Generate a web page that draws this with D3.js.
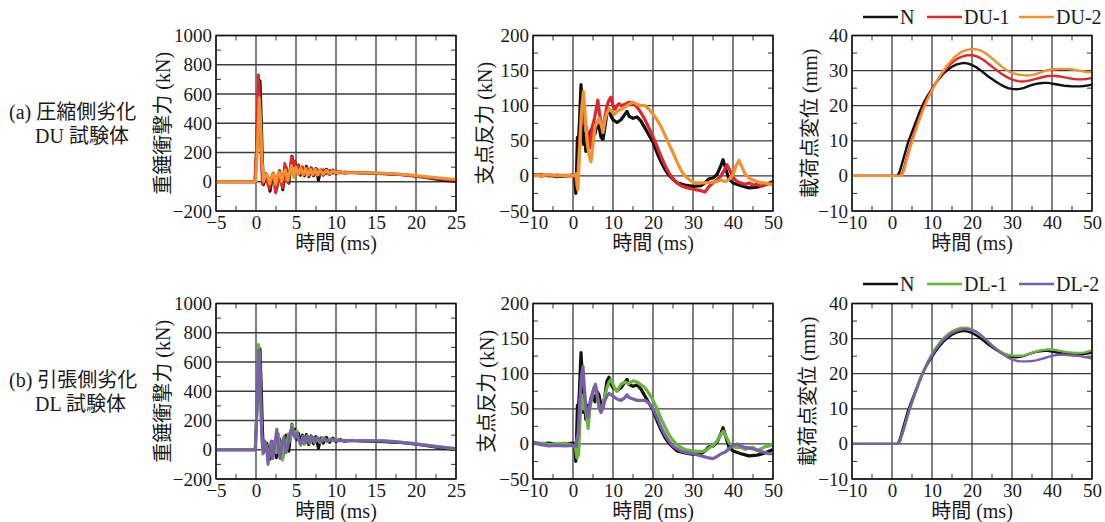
<!DOCTYPE html>
<html>
<head>
<meta charset="utf-8">
<script src="https://cdn.jsdelivr.net/npm/d3@7"></script>
<style>
  body { margin: 0; background: #fff; }
  text { font-family: "Liberation Serif", "Noto Sans CJK JP", serif; fill: #1a1a1a; }
</style>
</head>
<body>
<div id="container"></div>
<script>
/* DATA */
const impactTicksX = [-5, 0, 5, 10, 15, 20, 25];
const impactTicksY = [-200, 0, 200, 400, 600, 800, 1000];
const timeTicks = [-10, 0, 10, 20, 30, 40, 50];
const reactionTicksY = [-50, 0, 50, 100, 150, 200];
const dispTicksY = [-10, 0, 10, 20, 30, 40];

// impact force (kN) vs time (ms)
const impactN = [[-5,0],[-0.1,0],[0.1,250],[0.35,600],[0.5,690],[0.65,450],[0.8,150],[0.95,-20],[1.15,30],[1.35,45],[1.55,-10],[1.75,-65],[1.95,0],[2.15,55],[2.35,20],[2.55,-55],[2.75,0],[2.95,75],[3.15,10],[3.35,-55],[3.55,40],[3.75,100],[3.95,20],[4.1,-10],[4.3,90],[4.5,175],[4.65,110],[4.85,140],[5.05,70],[5.3,115],[5.55,45],[5.8,100],[6.05,40],[6.3,105],[6.6,35],[6.9,95],[7.2,40],[7.5,90],[7.8,10],[8.1,80],[8.4,45],[8.8,85],[9.2,50],[9.6,80],[10,55],[10.5,72],[11,58],[12,65],[13,60],[14,58],[15,57],[16,55],[17,52],[18,50],[19,45],[20,38],[21,30],[22,22],[23,14],[24,6],[25,2]];
const impactDU1 = [[-5,0],[-0.15,0],[0.05,200],[0.3,730],[0.45,560],[0.6,250],[0.8,-15],[1.0,35],[1.25,55],[1.5,-20],[1.7,-45],[1.95,30],[2.15,60],[2.45,-75],[2.7,-10],[2.9,70],[3.15,-5],[3.35,-40],[3.6,125],[3.8,55],[4.0,-5],[4.2,50],[4.45,170],[4.6,115],[4.8,140],[5.0,80],[5.25,110],[5.5,55],[5.8,100],[6.1,50],[6.4,95],[6.7,45],[7.0,90],[7.3,50],[7.65,85],[8.0,50],[8.4,82],[8.8,55],[9.2,78],[9.6,58],[10,72],[10.5,60],[11,66],[12,62],[13,63],[14,60],[15,58],[16,56],[17,53],[18,50],[19,45],[20,40],[21,33],[22,27],[23,20],[24,14],[25,10]];
const impactDU2 = [[-5,0],[-0.05,0],[0.15,200],[0.4,575],[0.55,450],[0.75,150],[0.95,0],[1.2,50],[1.45,40],[1.7,-15],[1.95,40],[2.2,55],[2.45,-20],[2.7,50],[2.95,65],[3.2,0],[3.45,60],[3.7,80],[3.95,10],[4.2,60],[4.45,110],[4.7,30],[5.0,100],[5.3,50],[5.6,95],[5.9,45],[6.2,90],[6.5,45],[6.8,85],[7.1,50],[7.4,85],[7.7,45],[8.0,80],[8.4,50],[8.8,78],[9.2,55],[9.6,75],[10,60],[10.5,70],[11,60],[12,62],[13,62],[14,60],[15,60],[16,58],[17,55],[18,52],[19,48],[20,42],[21,36],[22,31],[23,26],[24,21],[25,17]];
const impactDL1 = [[-5,0],[-0.1,0],[0.1,250],[0.3,720],[0.45,640],[0.65,200],[0.85,-30],[1.05,50],[1.3,30],[1.55,-60],[1.8,20],[2.05,-40],[2.3,60],[2.55,-20],[2.8,110],[3.05,-30],[3.3,-70],[3.55,50],[3.8,0],[4.05,110],[4.3,60],[4.5,170],[4.7,120],[4.9,100],[5.1,130],[5.35,60],[5.6,30],[5.85,90],[6.1,40],[6.4,95],[6.7,45],[7.0,90],[7.3,50],[7.6,80],[8.0,50],[8.4,85],[8.8,55],[9.2,75],[9.6,60],[10,70],[11,62],[12,64],[13,63],[14,62],[15,62],[16,60],[17,58],[18,53],[19,47],[20,42],[21,35],[22,28],[23,20],[24,12],[25,5]];
const impactDL2 = [[-5,0],[-0.05,0],[0.1,300],[0.3,680],[0.5,560],[0.7,100],[0.9,-20],[1.1,60],[1.3,20],[1.5,-100],[1.7,-20],[1.9,60],[2.1,-60],[2.35,40],[2.6,140],[2.8,20],[3.0,-60],[3.25,40],[3.5,90],[3.75,-20],[4.0,30],[4.25,110],[4.5,150],[4.7,100],[4.9,80],[5.1,110],[5.35,70],[5.6,40],[5.9,85],[6.2,50],[6.5,90],[6.8,50],[7.1,85],[7.4,55],[7.8,80],[8.2,55],[8.6,75],[9.0,58],[9.5,72],[10,62],[11,63],[12,60],[13,62],[14,62],[15,62],[16,61],[17,57],[18,52],[19,46],[20,40],[21,33],[22,26],[23,19],[24,13],[25,8]];

// support reaction (kN) vs time (ms)
const reactionN = [[-10,2],[-8,0],[-6,1],[-4,-1],[-2,0],[0,1],[0.4,0],[0.7,-25],[0.9,10],[1.1,55],[1.3,45],[1.6,75],[2.0,130],[2.3,100],[2.6,45],[2.9,60],[3.2,35],[3.6,55],[4.0,50],[4.5,65],[5.0,70],[5.5,60],[6.0,75],[6.5,70],[7.0,55],[7.5,52],[8.0,70],[8.5,90],[9.0,95],[9.5,85],[10,80],[11,76],[12,80],[13,88],[13.5,92],[14,85],[15,82],[16,84],[17,78],[18,68],[19,58],[20,48],[21,33],[22,20],[23,9],[24,1],[25,-5],[26,-10],[28,-13],[30,-15],[32,-14],[33,-10],[34,-4],[35,-3],[36,2],[37,15],[37.5,23],[38.2,10],[39,-5],[40,-10],[42,-14],[44,-17],[46,-16],[48,-13],[50,-8]];
const reactionDU1 = [[-10,0],[-8,2],[-6,0],[-4,1],[-2,0],[0,0],[0.6,2],[1.0,-15],[1.4,20],[1.8,60],[2.3,100],[2.8,75],[3.3,70],[3.8,55],[4.3,40],[4.8,70],[5.3,80],[5.8,95],[6.2,108],[6.6,90],[7.0,75],[7.5,65],[8.0,85],[8.5,100],[9.0,108],[9.5,112],[10,100],[10.5,95],[11,100],[11.5,103],[12,100],[13,102],[14,105],[15,103],[16,98],[17,90],[18,80],[19,68],[20,56],[21,42],[22,28],[23,15],[24,4],[25,-4],[26,-10],[27,-14],[28,-16],[30,-19],[32,-21],[33,-23],[34,-15],[35,-10],[36,-6],[37,0],[38,10],[38.5,16],[39.2,8],[40,-2],[41,-8],[42,-10],[43,-12],[44,-10],[45,-13],[46,-12],[47,-15],[48,-12],[50,-10]];
const reactionDU2 = [[-10,1],[-8,0],[-6,2],[-4,0],[-2,1],[0,0],[0.8,3],[1.2,-20],[1.6,30],[2.1,90],[2.6,120],[3.0,90],[3.5,50],[4.0,30],[4.5,20],[5.0,45],[5.5,70],[6.0,75],[6.5,82],[7.0,75],[7.5,62],[8.0,80],[8.5,90],[9.0,95],[9.5,93],[10,90],[10.5,88],[11,92],[12,95],[13,98],[14,102],[15,105],[16,102],[17,100],[18,100],[19,95],[20,88],[21,80],[22,70],[23,58],[24,45],[25,33],[26,20],[27,8],[28,0],[29,-5],[30,-9],[31,-10],[33,-10],[35,-9],[36,-8],[37,-6],[38,-8],[39,-5],[40,2],[40.8,15],[41.5,22],[42.3,12],[43,3],[44,-3],[45,-6],[46,-8],[47,-10],[48,-10],[49,-12],[50,-12]];
const reactionDL1 = [[-10,0],[-8,1],[-6,-1],[-4,0],[-2,1],[0,-2],[0.6,-5],[1.0,-20],[1.4,-15],[1.8,40],[2.2,70],[2.6,50],[3.0,55],[3.4,40],[3.8,22],[4.2,50],[4.7,65],[5.2,80],[5.6,82],[6.0,70],[6.5,50],[7.0,45],[7.5,55],[8.0,70],[8.5,80],[9.0,88],[9.5,92],[10,85],[10.5,78],[11,75],[11.5,80],[12,85],[13,88],[14,86],[15,90],[16,88],[17,84],[18,80],[19,72],[20,62],[21,50],[22,36],[23,24],[24,13],[25,5],[26,-1],[27,-5],[28,-8],[30,-10],[32,-11],[33,-10],[34,-6],[35,-2],[36,4],[37,14],[37.6,18],[38.3,10],[39,2],[40,-4],[41,-5],[42,-5],[43,-8],[44,-6],[45,-5],[46,-9],[47,-7],[48,-4],[49,-3],[50,0]];
const reactionDL2 = [[-10,2],[-8,-1],[-6,-3],[-4,-2],[-2,-3],[0,-2],[0.5,-4],[0.9,5],[1.3,15],[1.7,60],[2.1,95],[2.5,110],[2.9,75],[3.3,50],[3.7,38],[4.2,55],[4.7,70],[5.2,78],[5.6,85],[6.0,72],[6.5,55],[7.0,45],[7.5,52],[8.0,62],[8.5,68],[9.0,72],[9.5,70],[10,68],[11,64],[12,62],[13,66],[13.5,70],[14,66],[15,64],[16,62],[17,62],[18,62],[19,58],[20,50],[21,38],[22,24],[23,13],[24,4],[25,-3],[26,-7],[27,-10],[28,-12],[30,-14],[32,-17],[34,-20],[35,-21],[36,-18],[37,-14],[38,-12],[39,-7],[40,-2],[41,0],[42,-3],[43,-5],[44,-6],[45,-7],[46,-9],[47,-11],[48,-12],[49,-14],[50,-14]];

// loading point displacement (mm) vs time (ms)
const dispN = [[-10,0],[0,0],[1.4,0],[2,1.5],[3,5.5],[4,9.5],[5,12.5],[6,15.5],[7,18.5],[8,21],[9,23],[10,24.8],[11,26.5],[12,28],[13,29.3],[14,30.3],[15,31.1],[16,31.7],[17,32],[18,32.2],[19,32],[20,31.6],[21,31],[22,30.2],[23,29.3],[24,28.4],[25,27.6],[26,26.8],[27,26.1],[28,25.5],[29,25],[30,24.8],[31,24.7],[32,24.8],[33,25.1],[34,25.5],[35,25.9],[36,26.2],[37,26.4],[38,26.5],[39,26.5],[40,26.3],[41,26.1],[42,25.9],[43,25.7],[44,25.6],[45,25.5],[46,25.5],[47,25.5],[48,25.6],[49,25.8],[50,26]];
const dispDU1 = [[-10,0],[0,0],[2.2,0],[2.8,1.5],[3.5,4.5],[4.5,8.5],[5.5,12],[6.5,15.5],[7.5,18.5],[8.5,21.3],[9.5,23.6],[10.5,25.7],[11.5,27.5],[12.5,29.1],[13.5,30.5],[14.5,31.7],[15.5,32.7],[16.5,33.5],[17.5,34],[18.5,34.3],[19.5,34.4],[20.5,34.3],[21.5,33.9],[22.5,33.3],[23.5,32.5],[24.5,31.6],[25.5,30.7],[26.5,29.8],[27.5,29],[28.5,28.3],[29.5,27.7],[30.5,27.3],[31.5,27],[32.5,26.9],[33.5,27],[34.5,27.2],[35.5,27.5],[36.5,27.8],[37.5,28.1],[38.5,28.4],[39.5,28.5],[40.5,28.5],[41.5,28.4],[42.5,28.2],[43.5,28],[44.5,27.8],[45.5,27.6],[46.5,27.5],[47.5,27.5],[48.5,27.6],[49.5,27.8],[50,27.9]];
const dispDU2 = [[-10,0],[0,0],[2.4,0],[3,1.5],[3.7,4.5],[4.7,8.5],[5.7,12],[6.7,15.5],[7.7,18.5],[8.7,21.3],[9.7,23.7],[10.7,25.9],[11.7,27.9],[12.7,29.7],[13.7,31.3],[14.7,32.7],[15.7,33.9],[16.7,34.8],[17.7,35.5],[18.7,35.9],[19.7,36.1],[20.7,36.1],[21.7,35.9],[22.7,35.4],[23.7,34.7],[24.7,33.8],[25.7,32.8],[26.7,31.8],[27.7,30.9],[28.7,30.1],[29.7,29.5],[30.7,29.1],[31.7,28.8],[32.7,28.7],[33.7,28.6],[34.7,28.7],[35.7,28.9],[36.7,29.3],[37.7,29.7],[38.7,30.1],[39.7,30.3],[40.7,30.4],[41.7,30.5],[42.7,30.5],[43.7,30.5],[44.7,30.4],[45.7,30.2],[46.7,30],[47.7,29.8],[48.7,29.6],[50,29.5]];
const dispDL1 = [[-10,0],[0,0],[1.5,0],[2,1],[3,4.5],[4,8.5],[5,12],[6,15.3],[7,18.4],[8,21.2],[9,23.6],[10,25.7],[11,27.5],[12,29],[13,30.3],[14,31.3],[15,32.1],[16,32.6],[17,33],[18,33.1],[19,33],[20,32.6],[21,32],[22,31.2],[23,30.2],[24,29.1],[25,28.1],[26,27.2],[27,26.4],[28,25.8],[29,25.4],[30,25.2],[31,25.1],[32,25.1],[33,25.2],[34,25.5],[35,25.9],[36,26.3],[37,26.6],[38,26.8],[39,26.9],[40,26.9],[41,26.7],[42,26.5],[43,26.3],[44,26.1],[45,26],[46,25.9],[47,25.9],[48,26],[49,26.3],[50,26.6]];
const dispDL2 = [[-10,0],[0,0],[1.6,0],[2.1,1],[3,4.3],[4,8.3],[5,11.8],[6,15],[7,18],[8,20.8],[9,23.2],[10,25.2],[11,27],[12,28.5],[13,29.8],[14,30.8],[15,31.6],[16,32.1],[17,32.5],[18,32.7],[19,32.7],[20,32.5],[21,32],[22,31.2],[23,30.2],[24,29.1],[25,28],[26,27],[27,26.1],[28,25.3],[29,24.6],[30,24.1],[31,23.7],[32,23.5],[33,23.5],[34,23.5],[35,23.6],[36,23.8],[37,24.1],[38,24.4],[39,24.8],[40,25.1],[41,25.3],[42,25.4],[43,25.4],[44,25.3],[45,25.2],[46,25.1],[47,25],[48,24.8],[49,24.6],[50,24.3]];

const legendTop = ["N", "DU-1", "DU-2"];
const legendBottom = ["N", "DL-1", "DL-2"];
const rowLabels = [["(a) 圧縮側劣化", "DU 試験体"], ["(b) 引張側劣化", "DL 試験体"]];

/* LAYOUT */
const W = 1105, H = 522;
const colX = [216, 533, 852];
const rowY = [35.5, 303.5];
const pw = 240, ph = 175.5;

const C = { N: "#111", DU1: "#e3262b", DU2: "#f0922f", DL1: "#68b43c", DL2: "#7a60a8" };

const svg = d3.select('#container')
  .append('svg')
  .attr("width", W)
  .attr("height", H);

const panels = [
  { row: 0, col: 0, xd: [-5, 25], xt: impactTicksX, yd: [-200, 1000], yt: impactTicksY, ylab: "重錘衝撃力 (kN)", ylx: 163, lw: 3,
    series: [[impactN, C.N], [impactDU1, C.DU1], [impactDU2, C.DU2]] },
  { row: 0, col: 1, xd: [-10, 50], xt: timeTicks, yd: [-50, 200], yt: reactionTicksY, ylab: "支点反力 (kN)", ylx: 485, lw: 3.2,
    series: [[reactionN, C.N], [reactionDU1, C.DU1], [reactionDU2, C.DU2]] },
  { row: 0, col: 2, xd: [-10, 50], xt: timeTicks, yd: [-10, 40], yt: dispTicksY, ylab: "載荷点変位 (mm)", ylx: 810, lw: 2.4,
    series: [[dispN, C.N], [dispDU1, C.DU1], [dispDU2, C.DU2]] },
  { row: 1, col: 0, xd: [-5, 25], xt: impactTicksX, yd: [-200, 1000], yt: impactTicksY, ylab: "重錘衝撃力 (kN)", ylx: 163, lw: 3,
    series: [[impactN, C.N], [impactDL1, C.DL1], [impactDL2, C.DL2]] },
  { row: 1, col: 1, xd: [-10, 50], xt: timeTicks, yd: [-50, 200], yt: reactionTicksY, ylab: "支点反力 (kN)", ylx: 487, lw: 3.2,
    series: [[reactionN, C.N], [reactionDL1, C.DL1], [reactionDL2, C.DL2]] },
  { row: 1, col: 2, xd: [-10, 50], xt: timeTicks, yd: [-10, 40], yt: dispTicksY, ylab: "載荷点変位 (mm)", ylx: 808, lw: 2.4,
    series: [[dispN, C.N], [dispDL1, C.DL1], [dispDL2, C.DL2]] }
];

panels.forEach((p, i) => {
  const x0 = colX[p.col], y0 = rowY[p.row];
  const g = svg.append("g").attr("transform", `translate(${x0},${y0})`);
  const x = d3.scaleLinear().domain(p.xd).range([0, pw]);
  const y = d3.scaleLinear().domain(p.yd).range([ph, 0]);

  // minor ticks halfway between majors
  const xStep = p.xt[1] - p.xt[0], yStep = p.yt[1] - p.yt[0];
  const xMinor = p.xt.slice(0, -1).map(v => v + xStep / 2);
  const yMinor = p.yt.slice(0, -1).map(v => v + yStep / 2);

  // grid
  g.selectAll(".gx").data(p.xt).enter().append("line")
    .attr("x1", d => x(d)).attr("x2", d => x(d)).attr("y1", 0).attr("y2", ph)
    .attr("stroke", "#3c3c3c").attr("stroke-width", 1.3);
  g.selectAll(".gy").data(p.yt).enter().append("line")
    .attr("x1", 0).attr("x2", pw).attr("y1", d => y(d)).attr("y2", d => y(d))
    .attr("stroke", "#3c3c3c").attr("stroke-width", 1.3);

  // inner minor ticks
  const tk = 5;
  xMinor.forEach(v => {
    g.append("line").attr("x1", x(v)).attr("x2", x(v)).attr("y1", ph).attr("y2", ph - tk).attr("stroke", "#333").attr("stroke-width", 1);
    g.append("line").attr("x1", x(v)).attr("x2", x(v)).attr("y1", 0).attr("y2", tk).attr("stroke", "#333").attr("stroke-width", 1);
  });
  yMinor.forEach(v => {
    g.append("line").attr("x1", 0).attr("x2", tk).attr("y1", y(v)).attr("y2", y(v)).attr("stroke", "#333").attr("stroke-width", 1);
    g.append("line").attr("x1", pw).attr("x2", pw - tk).attr("y1", y(v)).attr("y2", y(v)).attr("stroke", "#333").attr("stroke-width", 1);
  });

  // clip
  svg.append("clipPath").attr("id", "clip" + i)
    .append("rect").attr("x", 0).attr("y", 0).attr("width", pw).attr("height", ph);

  const line = d3.line().x(d => x(d[0])).y(d => y(d[1]));
  const lines = g.append("g").attr("clip-path", `url(#clip${i})`);
  p.series.forEach(([data, color]) => {
    lines.append("path")
      .datum(data)
      .attr("d", line)
      .attr("fill", "none")
      .attr("stroke", color)
      .attr("stroke-width", p.lw)
      .attr("stroke-linejoin", "round");
  });

  // frame
  g.append("rect").attr("width", pw).attr("height", ph)
    .attr("fill", "none").attr("stroke", "#111").attr("stroke-width", 1.4);

  // tick labels via axes
  const ax = g.append("g").attr("transform", `translate(0,${ph})`)
    .call(d3.axisBottom(x).tickValues(p.xt).tickFormat(d3.format("d")).tickSize(0).tickPadding(5));
  const ay = g.append("g")
    .call(d3.axisLeft(y).tickValues(p.yt).tickFormat(d3.format("d")).tickSize(0).tickPadding(4));
  [ax, ay].forEach(a => {
    a.attr("font-size", 19);
    a.select(".domain").remove();
  });

  // axis titles
  g.append("text")
    .attr("x", pw / 2)
    .attr("y", ph + 39)
    .attr("text-anchor", "middle")
    .attr("font-size", 20)
    .text("時間 (ms)");

  svg.append("text")
    .attr("transform", `translate(${p.ylx},${y0 + ph / 2}) rotate(-90)`)
    .attr("text-anchor", "middle")
    .attr("dominant-baseline", "central")
    .attr("font-size", 20)
    .text(p.ylab);
});

// Legends
function legend(names, colors, ly) {
  const lx = [863, 927, 1019];
  names.forEach((n, k) => {
    svg.append("line")
      .attr("x1", lx[k]).attr("x2", lx[k] + 35)
      .attr("y1", ly).attr("y2", ly)
      .attr("stroke", colors[k]).attr("stroke-width", 2.6);
    svg.append("text")
      .attr("x", lx[k] + 37)
      .attr("y", ly + 7)
      .attr("font-size", 20)
      .text(n);
  });
}
legend(legendTop, [C.N, C.DU1, C.DU2], 17);
legend(legendBottom, [C.N, C.DL1, C.DL2], 284);

// Row labels
const rowLabelY = [[119, 143], [387, 411]];
rowLabels.forEach((lines, r) => {
  svg.append("text").attr("x", 9).attr("y", rowLabelY[r][0]).attr("font-size", 20).text(lines[0]);
  svg.append("text").attr("x", 35).attr("y", rowLabelY[r][1]).attr("font-size", 20).text(lines[1]);
});
</script>
</body>
</html>
